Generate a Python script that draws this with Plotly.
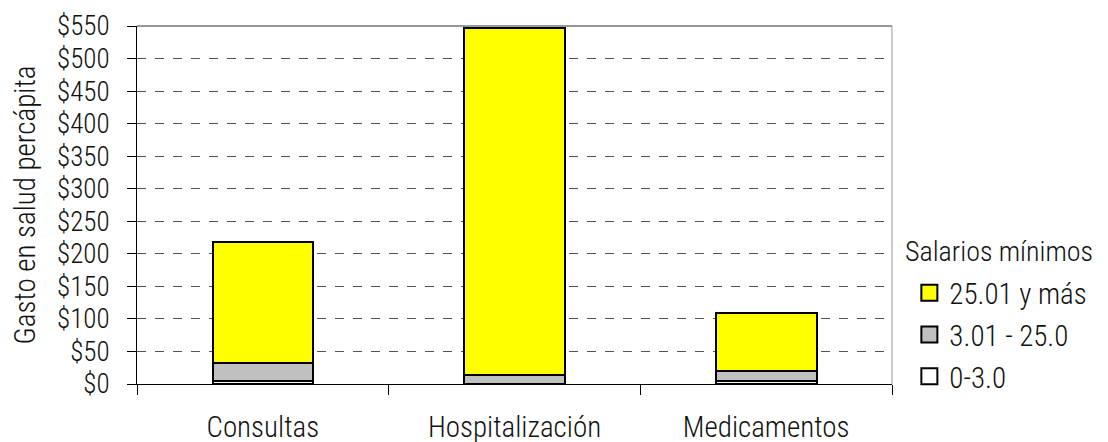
import plotly.graph_objects as go

categorias = ['Consultas', 'Hospitalización', 'Medicamentos']
grupos = ['0-3.0', '3.01 - 25.0', '25.01 y más']
bajo = [5, 0.6, 4.5]
medio = [27, 13, 16]
alto = [186, 533, 88]
colores = ['#ffffff', '#c0c0c0', '#ffff00']

fuente = 'Roboto Condensed'

fig = go.Figure()
for nombre, valores, color in zip(grupos, [bajo, medio, alto], colores):
    fig.add_trace(go.Bar(x=categorias, y=valores, name=nombre, width=0.4, showlegend=False,
                         marker=dict(color=color, line=dict(color='black', width=2))))
# entradas de leyenda con cuadros más grandes (de arriba hacia abajo)
for nombre, color in zip(grupos[::-1], colores[::-1]):
    fig.add_trace(go.Scatter(x=[None], y=[None], mode='markers', name=nombre, legendgroup=nombre,
                             marker=dict(symbol='square', size=16, color=color,
                                         line=dict(color='black', width=2))))

fig.update_layout(template='plotly_white', width=1108, height=442, barmode='stack',
                  margin=dict(l=129, r=224, t=18, b=66),
                  paper_bgcolor='white', plot_bgcolor='white',
                  font=dict(family=fuente, size=24, color='#111111', weight=300),
                  legend=dict(traceorder='grouped', tracegroupgap=1,
                              x=1.023, xanchor='left', y=0.137, yanchor='middle',
                              font=dict(size=29), itemwidth=30),
                  annotations=[dict(text='Salarios mínimos', xref='paper', yref='paper', x=1.015, y=0.3715,
                                    xanchor='left', yanchor='middle', showarrow=False, font=dict(size=28))],
                  shapes=[dict(type='line', xref='paper', yref='paper', x0=0, x1=1, y0=1, y1=1,
                               line=dict(color='#999999', width=2)),
                          dict(type='line', xref='paper', yref='paper', x0=1, x1=1, y0=0, y1=1,
                               line=dict(color='#999999', width=1))])
fig.update_yaxes(range=[0, 550], dtick=50, tickprefix='$', showline=True, linecolor='black', linewidth=1,
                 ticks='outside', ticklen=9, tickcolor='black', showgrid=True, gridcolor='#555555',
                 griddash='dash', gridwidth=1, zeroline=False, automargin=False, ticklabelstandoff=12,
                 tickfont=dict(size=27),
                 title=dict(text='Gasto en salud percápita', standoff=14))
fig.update_xaxes(showline=True, linecolor='black', linewidth=1, ticks='outside', ticklen=10,
                 tickcolor='black', tickson='boundaries', showgrid=False, automargin=False,
                 ticklabelstandoff=17, tickfont=dict(size=29))
fig.write_html('out.html')
